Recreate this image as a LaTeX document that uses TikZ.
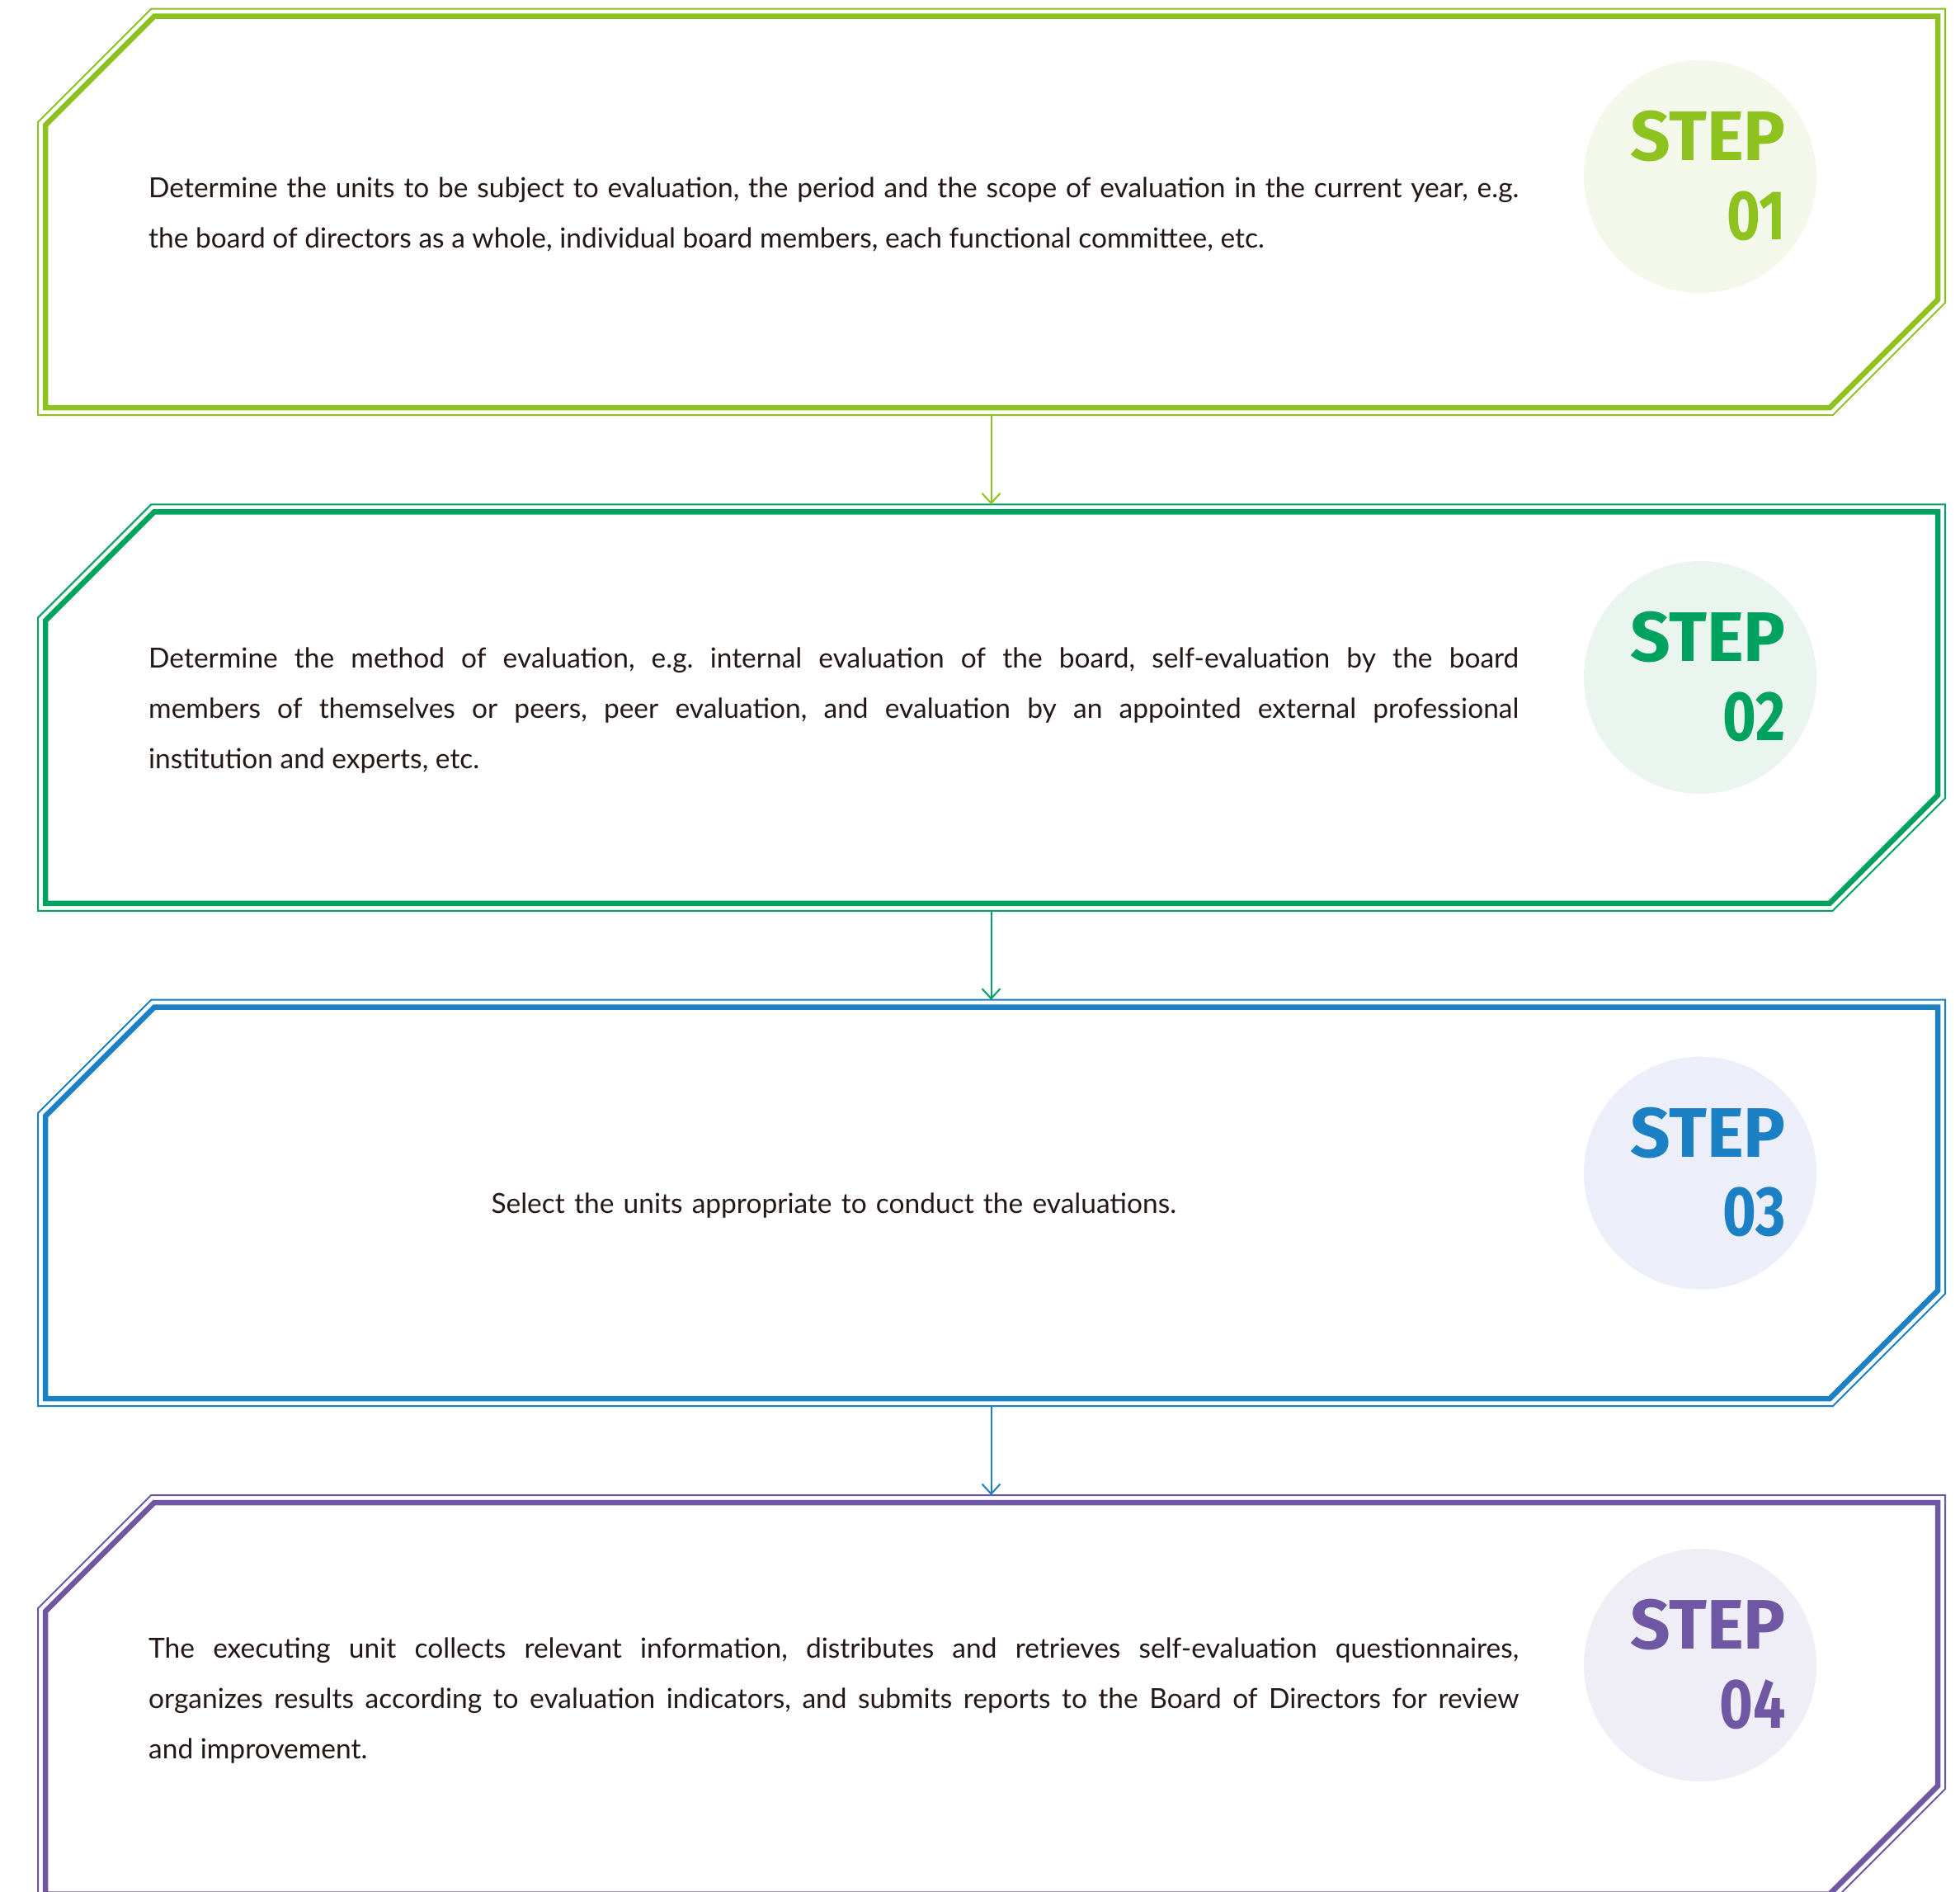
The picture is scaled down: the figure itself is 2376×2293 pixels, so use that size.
\documentclass[tikz,border=0pt]{standalone}
\usepackage{fontspec}
\setmainfont{Lato}
\newfontfamily\stepfont{Fira Sans}
\usetikzlibrary{arrows.meta}

\definecolor{ink}{HTML}{231815}
\definecolor{lime}{HTML}{8DC21F}
\definecolor{limebg}{HTML}{F4F8EB}
\definecolor{jade}{HTML}{00A25F}
\definecolor{jadebg}{HTML}{EBF5EF}
\definecolor{ocean}{HTML}{1B80C4}
\definecolor{oceanbg}{HTML}{ECEEFA}
\definecolor{violet}{HTML}{6F57A4}
\definecolor{violetbg}{HTML}{EFEEF7}

\tikzset{
  frame/.style={line width=6.5pt, draw=#1, line join=miter},
  outerframe/.style={line width=2pt, draw=#1, line join=miter},
  badge/.style={circle, fill=#1, minimum size=282pt, inner sep=0pt},
  steplabel/.style={text=#1, font=\stepfont\bfseries\fontsize{85}{85}\selectfont, inner sep=0pt, anchor=base east},
  bodytext/.style={text=ink, font=\fontsize{33.5}{61}\selectfont, text width=1661pt, inner sep=0pt},
  link/.style={draw=#1, line width=2pt, -{Straight Barb[length=12pt, width=22pt, line width=2pt]}},
}

% #1 name, #2 inner top edge, #3 line colour, #4 badge fill, #5 badge centre y, #6 number
\newcommand{\stepframe}[6]{%
  \pgfmathsetmacro{\frtop}{#2}%
  \pgfmathsetmacro{\frbot}{#2+474.5}%
  \draw[frame=#3] (187,\frtop) -- (2349,\frtop) -- (2349,\frbot-131) -- (2218,\frbot)
    -- (55,\frbot) -- (55,\frtop+132) -- cycle;
  \draw[outerframe=#3] (183.3,\frtop-9) -- (2358,\frtop-9) -- (2358,\frbot-127.3)
    -- (2221.7,\frbot+9) -- (46,\frbot+9) -- (46,\frtop+128.3) -- cycle;
  \node[badge=#4] (#1badge) at (2061,#5) {};
  \node[steplabel=#3] (#1word) at (2165,#5-19.5) {STEP};
  \node[steplabel=#3] (#1num) at (2165,#5+76) {\scalebox{0.82}[1]{#6}};
  \coordinate (#1in) at (1201.5,\frtop-9);
  \coordinate (#1out) at (1201.5,\frbot+9);
}

\begin{document}
\begin{tikzpicture}[x=1pt,y=-1pt]
\useasboundingbox (0,0) rectangle (2376,2293);
\clip (0,0) rectangle (2376,2293);
\fill[white] (0,0) rectangle (2376,2293);
\frenchspacing

\stepframe{s1}{19.7}{lime}{limebg}{214}{01}
\stepframe{s2}{620.3}{jade}{jadebg}{821}{02}
\stepframe{s3}{1220.7}{ocean}{oceanbg}{1421.7}{03}
\stepframe{s4}{1821}{violet}{violetbg}{2018}{04}

\node[bodytext, align=justify, anchor=west] (t1) at (180,260) {Determine the units to be subject to evaluation, the period and the scope of evaluation in the current year, e.g.\linebreak the board of directors as a whole, individual board members, each functional committee, etc.};

\node[bodytext, align=justify, anchor=west] (t2) at (180,861) {Determine the method of evaluation, e.g. internal evaluation of the board, self-evaluation by the board\linebreak members of themselves or peers, peer evaluation, and evaluation by an appointed external professional\linebreak institution and experts, etc.};

\node[bodytext, align=center, anchor=west] (t3) at (180,1461) {Select the units appropriate to conduct the evaluations.};

\node[bodytext, align=justify, anchor=west] (t4) at (180,2061) {The executing unit collects relevant information, distributes and retrieves self-evaluation questionnaires,\linebreak organizes results according to evaluation indicators, and submits reports to the Board of Directors for review\linebreak and improvement.};

\draw[link=lime] (s1out) -- (s2in);
\draw[link=jade] (s2out) -- (s3in);
\draw[link=ocean] (s3out) -- (s4in);
\end{tikzpicture}
\end{document}
